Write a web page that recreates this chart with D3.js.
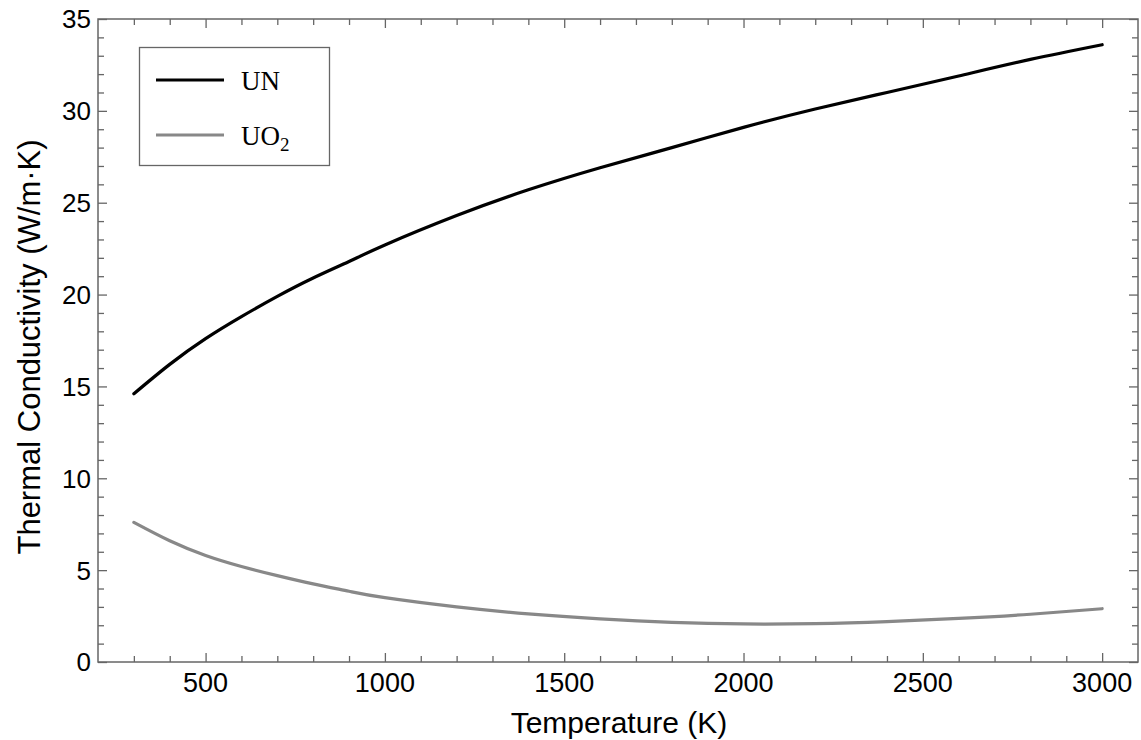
<!DOCTYPE html>
<html>
<head>
<meta charset="utf-8">
<script src="https://cdn.jsdelivr.net/npm/d3@7"></script>
<style>
  body { margin: 0; background: #fff; }
  svg { display: block; }
</style>
</head>
<body>
<script>
// values
let temps = [300, 400, 500, 600, 700, 800, 900, 1000, 1200, 1400, 1600, 1800, 2000, 2200, 2400, 2600, 2800, 3000]
let un_k  = [14.6, 16.2, 17.6, 18.8, 19.9, 20.9, 21.8, 22.7, 24.3, 25.7, 26.9, 28.0, 29.1, 30.1, 31.0, 31.9, 32.8, 33.6]
let uo2_k = [7.6, 6.6, 5.8, 5.2, 4.7, 4.25, 3.85, 3.5, 3.0, 2.62, 2.35, 2.16, 2.07, 2.09, 2.2, 2.37, 2.6, 2.9]
let series_names = ['UN', 'UO2']
let x_ticks = [500, 1000, 1500, 2000, 2500, 3000]
let y_ticks = [0, 5, 10, 15, 20, 25, 30, 35]

let width = 1141, height = 740
let margin = ({top: 19, right: 3, bottom: 78, left: 98})

let x = d3.scaleLinear()
    .domain([200, 3100])
    .range([margin.left, width - margin.right])

let y = d3.scaleLinear()
    .domain([0, 35])
    .range([height - margin.bottom, margin.top])

let frame_color = '#666'

const svg = d3.select('body').append('svg')
    .attr('width', width)
    .attr('height', height)

// inward ticks on all four sides
function ticks_on(g, axis) {
  g.call(axis)
    .call(g => g.selectAll('.domain').remove())
    .call(g => g.selectAll('line').attr('stroke', frame_color).attr('stroke-width', 1.3))
}

let x_minor = d3.range(300, 3100, 100).filter(v => v % 500)
let y_minor = d3.range(1, 35, 1).filter(v => v % 5)

let sans = '"Liberation Sans", Arial, Helvetica, sans-serif'

// bottom
svg.append('g')
    .attr('transform', `translate(0,${y(0)})`)
    .call(g => ticks_on(g, d3.axisTop(x).tickValues(x_minor).tickSize(6).tickFormat('')))
svg.append('g')
    .attr('transform', `translate(0,${y(0)})`)
    .call(g => ticks_on(g, d3.axisTop(x).tickValues(x_ticks).tickSize(9).tickFormat('')))
svg.append('g')
    .attr('transform', `translate(0,${y(0)})`)
    .selectAll('text')
    .data(x_ticks)
    .join('text')
      .attr('x', d => x(d))
      .attr('y', 30)
      .attr('text-anchor', 'middle')
      .style('font-family', sans)
      .style('font-size', '27px')
      .text(d => d)

// top
svg.append('g')
    .attr('transform', `translate(0,${y(35)})`)
    .call(g => ticks_on(g, d3.axisBottom(x).tickValues(x_minor).tickSize(6).tickFormat('')))
svg.append('g')
    .attr('transform', `translate(0,${y(35)})`)
    .call(g => ticks_on(g, d3.axisBottom(x).tickValues(x_ticks).tickSize(9).tickFormat('')))

// left
svg.append('g')
    .attr('transform', `translate(${x(200)},0)`)
    .call(g => ticks_on(g, d3.axisRight(y).tickValues(y_minor).tickSize(6).tickFormat('')))
svg.append('g')
    .attr('transform', `translate(${x(200)},0)`)
    .call(g => ticks_on(g, d3.axisRight(y).tickValues(y_ticks).tickSize(9).tickFormat('')))
svg.append('g')
    .selectAll('text')
    .data(y_ticks)
    .join('text')
      .attr('x', x(200) - 7)
      .attr('y', d => y(d))
      .attr('dy', '0.36em')
      .attr('text-anchor', 'end')
      .style('font-family', sans)
      .style('font-size', '26px')
      .text(d => d)

// right
svg.append('g')
    .attr('transform', `translate(${x(3100)},0)`)
    .call(g => ticks_on(g, d3.axisLeft(y).tickValues(y_minor).tickSize(6).tickFormat('')))
svg.append('g')
    .attr('transform', `translate(${x(3100)},0)`)
    .call(g => ticks_on(g, d3.axisLeft(y).tickValues(y_ticks).tickSize(9).tickFormat('')))

// frame
svg.append('rect')
    .attr('x', x(200))
    .attr('y', y(35))
    .attr('width', x(3100) - x(200))
    .attr('height', y(0) - y(35))
    .attr('fill', 'none')
    .attr('stroke', frame_color)
    .attr('stroke-width', 1.5)

// curves
let color = d3.scaleOrdinal()
    .domain(series_names)
    .range(['#000', '#888'])

let line = d3.line()
    .x(d => x(d[0]))
    .y(d => y(d[1]))
    .curve(d3.curveNatural)

let data = [
  { key: 'UN', values: d3.zip(temps, un_k) },
  { key: 'UO2', values: d3.zip(temps, uo2_k) }
]

svg.append('g')
  .selectAll('path')
  .data(data)
  .join('path')
    .attr('d', d => line(d.values))
    .attr('fill', 'none')
    .attr('stroke', d => color(d.key))
    .attr('stroke-width', 3.2)
    .attr('stroke-linecap', 'round')

// legend
let lg = svg.append('g')
lg.append('rect')
    .attr('x', 139.5)
    .attr('y', 47.5)
    .attr('width', 190)
    .attr('height', 118)
    .attr('fill', '#fff')
    .attr('stroke', frame_color)
    .attr('stroke-width', 1.3)

let serif = '"Liberation Serif", "Times New Roman", Times, serif'
let items = lg.selectAll('g.item')
  .data(series_names)
  .join('g')
    .attr('class', 'item')
    .attr('transform', (d, i) => `translate(0,${80 + i * 55})`)

items.append('line')
    .attr('x1', 156)
    .attr('x2', 224)
    .attr('stroke', d => color(d))
    .attr('stroke-width', 3.2)

items.append('text')
    .attr('x', 241)
    .attr('dy', '0.36em')
    .style('font-family', serif)
    .style('font-size', '27px')
    .each(function(d) {
      let t = d3.select(this)
      if (d === 'UO2') {
        t.append('tspan').text('UO')
        t.append('tspan').attr('dy', 6).style('font-size', '19px').text('2')
      } else {
        t.text(d)
      }
    })

// axis titles
svg.append('text')
    .attr('x', 619)
    .attr('y', 733)
    .attr('text-anchor', 'middle')
    .style('font-family', sans)
    .style('font-size', '30px')
    .text('Temperature (K)')

svg.append('text')
    .attr('transform', 'rotate(-90)')
    .attr('x', -347)
    .attr('y', 40)
    .attr('text-anchor', 'middle')
    .style('font-family', sans)
    .style('font-size', '31px')
    .text('Thermal Conductivity (W/m·K)')
</script>
</body>
</html>
